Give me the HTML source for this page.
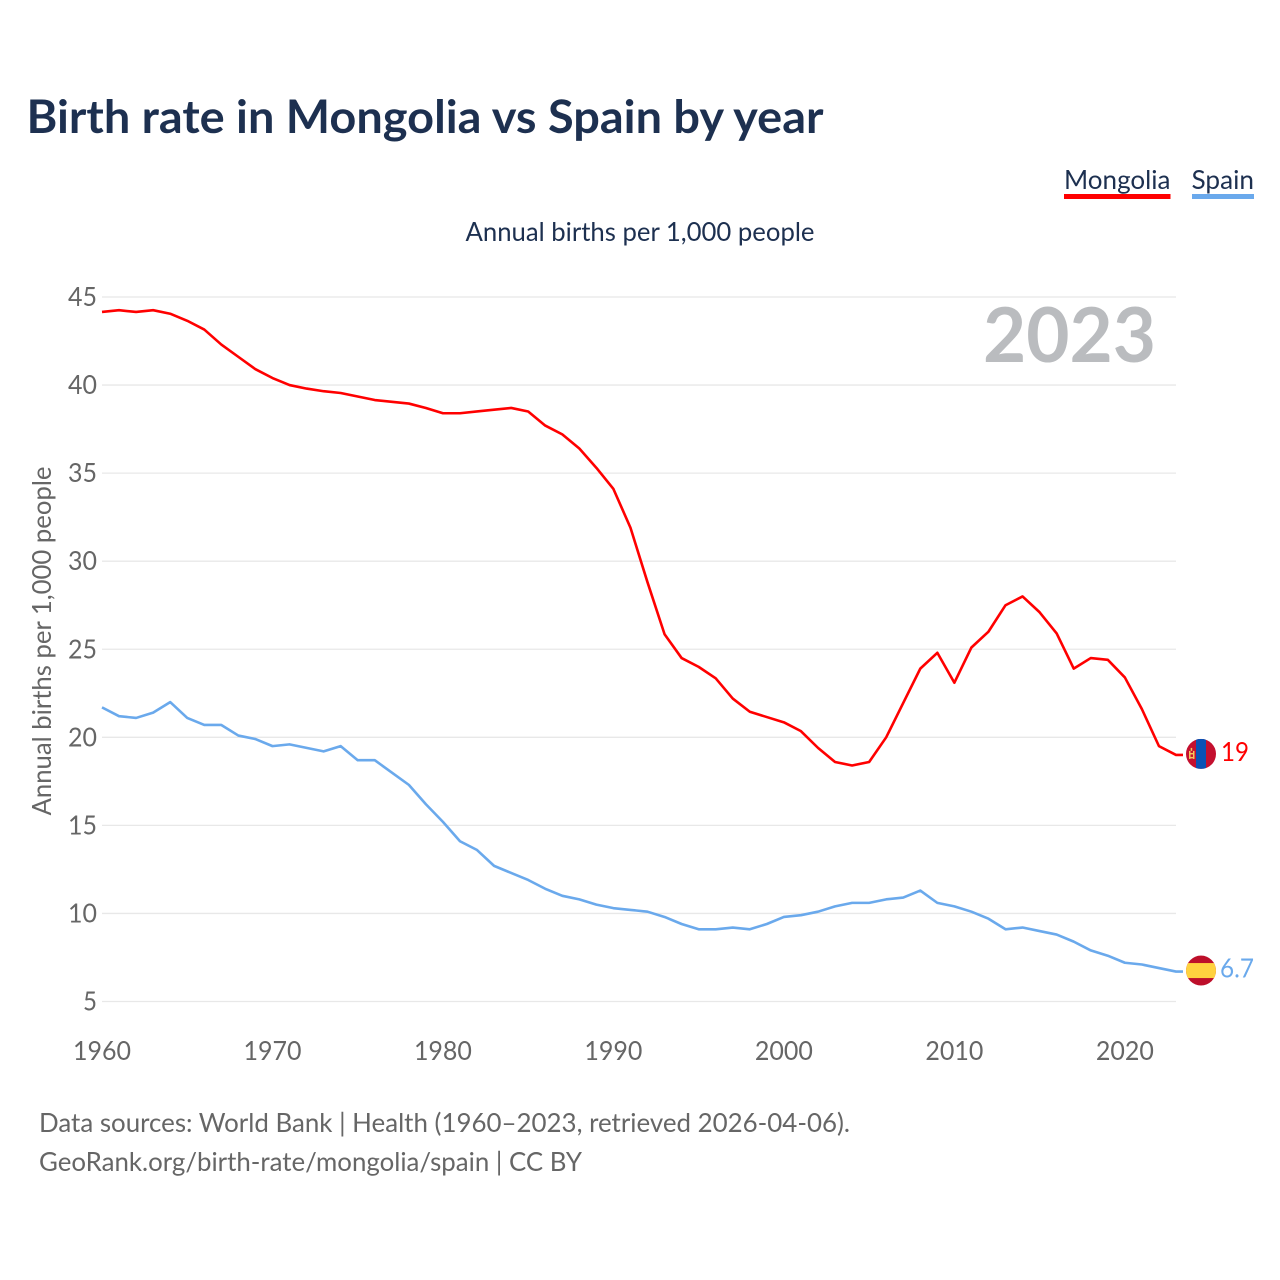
<!DOCTYPE html>
<html lang="en">
<head>
<meta charset="utf-8">
<title>Birth rate in Mongolia vs Spain by year</title>
<style>
html,body{margin:0;padding:0;background:#fff;}
svg{display:block;font-family:"Lato","Carlito","Liberation Sans",sans-serif;}
</style>
</head>
<body>
<svg id="chart" width="1280" height="1280" viewBox="0 0 1280 1280" xmlns="http://www.w3.org/2000/svg">
  <defs>
    <clipPath id="mongolia-clip"><circle id="mongolia-clip-circle" r="15"></circle></clipPath>
    <clipPath id="spain-clip"><circle id="spain-clip-circle" r="15"></circle></clipPath>
  </defs>
  <rect width="1280" height="1280" fill="#ffffff"/>
  <text x="26.5" y="133" font-size="46" font-weight="700" fill="#1d3050" textLength="797" lengthAdjust="spacingAndGlyphs">Birth rate in Mongolia vs Spain by year</text>

  <g>
    <text x="1064" y="189" font-size="26.5" fill="#1d3050" textLength="106.5" lengthAdjust="spacingAndGlyphs">Mongolia</text>
    <rect x="1064" y="194" width="106.5" height="5" fill="#ff0000"/>
  </g>
  <g>
    <text x="1191.5" y="189" font-size="26.5" fill="#1d3050" textLength="62.5" lengthAdjust="spacingAndGlyphs">Spain</text>
    <rect x="1192" y="194" width="62" height="5" fill="#6aa9ec"/>
  </g>

  <text x="465.5" y="241" font-size="26.5" fill="#1d3050" textLength="349" lengthAdjust="spacingAndGlyphs">Annual births per 1,000 people</text>
  <g id="grid"></g>
  <g id="y-ticks"></g>
  <g id="x-ticks"></g>
  <text transform="translate(51,815.5) rotate(-90)" font-size="26.5" fill="#666666" textLength="349" lengthAdjust="spacingAndGlyphs">Annual births per 1,000 people</text>
  <text x="983" y="362" font-size="76" font-weight="700" fill="#babcbf" textLength="173" lengthAdjust="spacingAndGlyphs">2023</text>
  <g id="series"></g>
  <g id="flags"></g>
  <text x="39" y="1132" font-size="26.5" fill="#666666" textLength="811" lengthAdjust="spacingAndGlyphs">Data sources: World Bank | Health (1960–2023, retrieved 2026-04-06).</text>
  <text x="39" y="1171" font-size="26.5" fill="#666666" textLength="543" lengthAdjust="spacingAndGlyphs">GeoRank.org/birth-rate/mongolia/spain | CC BY</text>
</svg>
<script>
var years = [];
for (var yr = 1960; yr <= 2023; yr++) { years.push(yr); }
var yTickValues = [5, 10, 15, 20, 25, 30, 35, 40, 45];
var xTickValues = [1960, 1970, 1980, 1990, 2000, 2010, 2020];
var mongoliaValues = [
  44.15, 44.25, 44.15, 44.25, 44.05, 43.65, 43.15, 42.3, 41.6, 40.9,
  40.4, 40.0, 39.8, 39.65, 39.55, 39.35, 39.15, 39.05, 38.95, 38.7,
  38.4, 38.4, 38.5, 38.6, 38.7, 38.5, 37.7, 37.2, 36.4, 35.3,
  34.1, 31.9, 28.8, 25.85, 24.5, 24.0, 23.35, 22.2, 21.45, 21.15,
  20.85, 20.35, 19.4, 18.6, 18.4, 18.6, 20.0, 21.95, 23.9, 24.8,
  23.1, 25.1, 26.0, 27.5, 28.0, 27.1, 25.9, 23.9, 24.5, 24.4,
  23.4, 21.6, 19.5, 19.0
];
var spainValues = [
  21.7, 21.2, 21.1, 21.4, 22.0, 21.1, 20.7, 20.7, 20.1, 19.9,
  19.5, 19.6, 19.4, 19.2, 19.5, 18.7, 18.7, 18.0, 17.3, 16.2,
  15.2, 14.1, 13.6, 12.7, 12.3, 11.9, 11.4, 11.0, 10.8, 10.5,
  10.3, 10.2, 10.1, 9.8, 9.4, 9.1, 9.1, 9.2, 9.1, 9.4,
  9.8, 9.9, 10.1, 10.4, 10.6, 10.6, 10.8, 10.9, 11.3, 10.6,
  10.4, 10.1, 9.7, 9.1, 9.2, 9.0, 8.8, 8.4, 7.9, 7.6,
  7.2, 7.1, 6.9, 6.7
];
var mongoliaLabel = "19";
var spainLabel = "6.7";

var NS = "http://www.w3.org/2000/svg";
function xScale(year) { return 102 + (year - 1960) * (1176 - 102) / 63; }
function yScale(value) { return 1001.5 - (value - 5) * (1001.5 - 297) / 40; }
function make(tag, attrs, parent) {
  var el = document.createElementNS(NS, tag);
  for (var key in attrs) { el.setAttribute(key, attrs[key]); }
  parent.appendChild(el);
  return el;
}

var grid = document.getElementById("grid");
var yTicks = document.getElementById("y-ticks");
var xTicks = document.getElementById("x-ticks");
var seriesGroup = document.getElementById("series");
var flags = document.getElementById("flags");

yTickValues.forEach(function (v) {
  var line = make("line", {x1: 102, x2: 1176, y1: yScale(v), y2: yScale(v), stroke: "#e8e8e8", "stroke-width": 1.3}, grid);
  
  
  var label = make("text", {x: 97, y: yScale(v) + 9, "text-anchor": "end", "font-size": 26.5, fill: "#666666", textLength: v < 10 ? 14 : 29, lengthAdjust: "spacingAndGlyphs"}, yTicks);
  
  
  label.textContent = v;
});

xTickValues.forEach(function (t) {
  var label = make("text", {x: xScale(t), y: 1060, "text-anchor": "middle", "font-size": 26.5, fill: "#666666", textLength: 58, lengthAdjust: "spacingAndGlyphs"}, xTicks);
  
  
  label.textContent = t;
});

function linePoints(values) {
  var pts = values.map(function (v, i) { return xScale(years[i]).toFixed(2) + "," + yScale(v).toFixed(2); });
  pts.push("1183," + yScale(values[values.length - 1]).toFixed(2));
  return pts.join(" ");
}

var spainLine = make("polyline", {points: linePoints(spainValues), fill: "none", stroke: "#6aa9ec", "stroke-width": 2.6, "stroke-linejoin": "round"}, seriesGroup);


var mongoliaLine = make("polyline", {points: linePoints(mongoliaValues), fill: "none", stroke: "#ff0000", "stroke-width": 2.6, "stroke-linejoin": "round"}, seriesGroup);



var flagX = 1201;
var mY = yScale(mongoliaValues[mongoliaValues.length - 1]) - 1;
var sY = yScale(spainValues[spainValues.length - 1]) - 1;
var mClip = document.getElementById("mongolia-clip-circle");
mClip.setAttribute("cx", flagX);
mClip.setAttribute("cy", mY);
var sClip = document.getElementById("spain-clip-circle");
sClip.setAttribute("cx", flagX);
sClip.setAttribute("cy", sY);

var mFlag = make("g", {"clip-path": "url(#mongolia-clip)"}, flags);


make("rect", {x: flagX - 15, y: mY - 15, width: 30, height: 30, fill: "#c4102f"}, mFlag);
make("rect", {x: flagX - 5, y: mY - 15, width: 10, height: 30, fill: "#0a52b5"}, mFlag);
make("rect", {x: flagX - 12, y: mY - 3, width: 1.5, height: 8, fill: "#f4c95d"}, mFlag);
make("rect", {x: flagX - 8, y: mY - 3, width: 1.5, height: 8, fill: "#f4c95d"}, mFlag);
make("rect", {x: flagX - 11, y: mY - 1, width: 3.5, height: 1.5, fill: "#f4c95d"}, mFlag);
make("rect", {x: flagX - 11, y: mY + 3, width: 3.5, height: 1.5, fill: "#f4c95d"}, mFlag);
make("rect", {x: flagX - 10.3, y: mY - 6, width: 1.5, height: 3, fill: "#f4c95d"}, mFlag);

var sFlag = make("g", {"clip-path": "url(#spain-clip)"}, flags);


make("rect", {x: flagX - 15, y: sY - 15, width: 30, height: 30, fill: "#bd0f2a"}, sFlag);
make("rect", {x: flagX - 15, y: sY - 7.5, width: 30, height: 15, fill: "#ffd23f"}, sFlag);

var mText = make("text", {x: 1221, y: mY + 7, "font-size": 26.5, fill: "#ff0000", textLength: 28, lengthAdjust: "spacingAndGlyphs"}, flags);


mText.textContent = mongoliaLabel;
var sText = make("text", {x: 1220, y: sY + 7, "font-size": 26.5, fill: "#6aa9ec", textLength: 34, lengthAdjust: "spacingAndGlyphs"}, flags);


sText.textContent = spainLabel;
</script>
</body>
</html>
